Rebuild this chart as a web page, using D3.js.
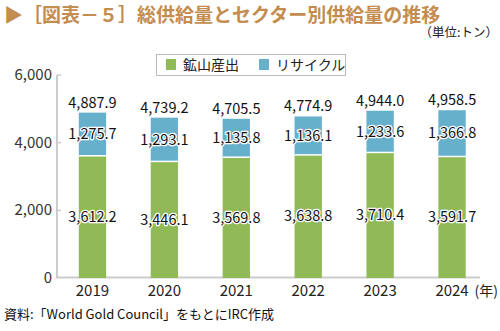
<!DOCTYPE html>
<html><head><meta charset="utf-8">
<script src="https://cdn.jsdelivr.net/npm/d3@7"></script>
<style>body{margin:0;background:#fff}svg{display:block}text{font-family:"Noto Sans CJK JP","Noto Sans",sans-serif}</style>
</head><body>
<script>
const years = ["2019","2020","2021","2022","2023","2024"];
const mining = [3612.2,3446.1,3569.8,3638.8,3710.4,3591.7];
const recycling = [1275.7,1293.1,1135.8,1136.1,1233.6,1366.8];
const totals = [4887.9,4739.2,4705.5,4774.9,4944.0,4958.5];
const yTicks = [0,2000,4000,6000];
const seriesNames = ["鉱山産出","リサイクル"];

const W=500,H=331;
const svg=d3.select("body").append("svg").attr("width",W).attr("height",H);
const green="#8fba56", blue="#67b0cc";
const x=d3.scaleBand().domain(years).range([56.5,488]).paddingInner(0.62).paddingOuter(0.31);
const y=d3.scaleLinear().domain([0,6000]).range([278,75]);
const fmt=d3.format(",.1f");

svg.append("text").attr("x",4).attr("y",22).attr("fill","#c48c4e").attr("font-size",19).attr("font-weight","bold")
  .text("▶［図表－５］総供給量とセクター別供給量の推移");
svg.append("text").attr("x",498).attr("y",37).attr("text-anchor","end").attr("font-size",12.5).attr("fill","#222").text("（単位:トン）");

// y axis labels
svg.selectAll(".yt").data(yTicks).join("text").attr("x",52).attr("y",d=>y(d)+5).attr("text-anchor","end")
  .attr("font-size",15).attr("fill","#333").text(d=>d3.format(",")(d));
// axis lines
svg.append("line").attr("x1",57).attr("x2",57).attr("y1",75).attr("y2",278).attr("stroke","#ccc").attr("stroke-width",2);
svg.append("line").attr("x1",56).attr("x2",480).attr("y1",277.5).attr("y2",277.5).attr("stroke","#ccc").attr("stroke-width",2);
svg.selectAll(".ytk").data(yTicks.slice(1)).join("line").attr("x1",57).attr("x2",61).attr("y1",d=>y(d)).attr("y2",d=>y(d)).attr("stroke","#ccc").attr("stroke-width",1.5);

// bars
const g=svg.append("g");
years.forEach((yr,i)=>{
  g.append("rect").attr("x",x(yr)).attr("width",x.bandwidth()).attr("y",y(mining[i])).attr("height",y(0)-y(mining[i])).attr("fill",green);
  g.append("rect").attr("x",x(yr)).attr("width",x.bandwidth()).attr("y",y(mining[i]+recycling[i])).attr("height",y(mining[i])-y(mining[i]+recycling[i])).attr("fill",blue);
  g.append("line").attr("x1",x(yr)).attr("x2",x(yr)+x.bandwidth()).attr("y1",y(mining[i])).attr("y2",y(mining[i])).attr("stroke","#fff").attr("stroke-width",1.5);
});
function label(xc,yc,t,halo){
  const a=svg.append("text").attr("x",xc).attr("y",yc).attr("text-anchor","middle").attr("font-size",14.5).attr("fill","#111").text(t);
  if(halo){a.attr("stroke","#fff").attr("stroke-width",2.5).attr("paint-order","stroke").attr("stroke-linejoin","round");}
}
years.forEach((yr,i)=>{
  const cx=x(yr)+x.bandwidth()/2;
  label(cx,(y(mining[i])+y(0))/2+5,fmt(mining[i]),true);
  label(cx,(y(mining[i])+y(mining[i]+recycling[i]))/2+5,fmt(recycling[i]),true);
  label(cx,y(totals[i])-5,fmt(totals[i]),false);
  svg.append("text").attr("x",cx).attr("y",296).attr("text-anchor","middle").attr("font-size",15).attr("fill","#222").text(yr);
});
svg.append("text").attr("x",498).attr("y",296).attr("text-anchor","end").attr("font-size",14).attr("fill","#222").text("(年)");

// legend
svg.append("rect").attr("x",156.5).attr("y",54.5).attr("width",189).attr("height",21).attr("fill","#fff").attr("stroke","#bbb");
const leg=[[166,green],[259,blue]];
leg.forEach((l,i)=>{
  svg.append("rect").attr("x",l[0]).attr("y",59).attr("width",10).attr("height",11).attr("fill",l[1]);
  svg.append("text").attr("x",l[0]+17).attr("y",70).attr("font-size",14).attr("fill","#222").text(seriesNames[i]);
});

svg.append("text").attr("x",4).attr("y",319).attr("font-size",13).attr("fill","#111").text("資料:「World Gold Council」をもとにIRC作成");
</script>
</body></html>
